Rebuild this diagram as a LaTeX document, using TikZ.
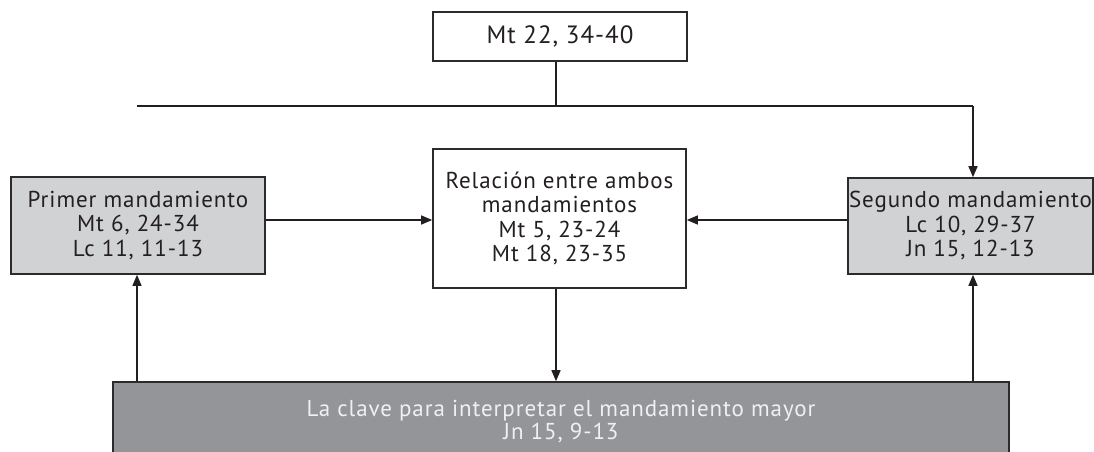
\documentclass[tikz,border=0pt]{standalone}
\usepackage{fontspec}
\setmainfont{PT Sans}[LetterSpace=4]
\usetikzlibrary{arrows.meta}
\definecolor{lightbox}{HTML}{D1D2D4}
\definecolor{darkbox}{HTML}{939598}
\definecolor{ink}{HTML}{231F20}
\definecolor{edge}{HTML}{2B2B2B}
\tikzset{
  box/.style={draw=edge, line width=1.6pt, inner sep=0pt, align=center, text=ink,
    font=\fontsize{23}{24.5}\selectfont},
  conn/.style={draw=ink, line width=1.4pt},
  arr/.style={conn, -{Triangle[length=11pt,width=9pt]}}
}
\begin{document}
\begin{tikzpicture}[x=1pt,y=-1pt]
\useasboundingbox (0,0) rectangle (1094,452);
\node[box, fill=white, minimum width=254, minimum height=49, font=\fontsize{25}{28}\selectfont] (top) at (560,36.5) {Mt 22, 34-40};
\node[box, fill=lightbox, minimum width=254, minimum height=97] (left) at (138,225.5)
  {Primer mandamiento\\Mt 6, 24-34\\Lc 11, 11-13};
\node[box, fill=white, minimum width=253, minimum height=139] (mid) at (559.5,218.5)
  {Relación entre ambos\\mandamientos\\Mt 5, 23-24\\Mt 18, 23-35};
\node[box, fill=lightbox, minimum width=245, minimum height=96] (right) at (970.5,226)
  {Segundo mandamiento\\Lc 10, 29-37\\Jn 15, 12-13};
\node[box, fill=darkbox, minimum width=896, minimum height=90] (bot) at (561,427) {};
\node[inner sep=0pt, align=center, text=white!94!black, font=\fontsize{23}{23}\selectfont] (bottxt) at (561,422)
  {La clave para interpretar el mandamiento mayor\\Jn 15, 9-13};
\coordinate (hl) at (137,106);
\coordinate (hm) at (556,106);
\coordinate (hr) at (973,106);
\coordinate (ya) at (0,220);
\draw[conn] (hm |- top.south) -- (hm);
\draw[conn] (hl) -- (hr);
\draw[arr] (hr) -- (hr |- right.north);
\draw[arr] (left.east |- ya) -- (mid.west |- ya);
\draw[arr] (right.west |- ya) -- (mid.east |- ya);
\draw[arr] (hm |- mid.south) -- (hm |- bot.north);
\draw[arr] (hl |- bot.north) -- (hl |- left.south);
\draw[arr] (hr |- bot.north) -- (hr |- right.south);
\end{tikzpicture}
\end{document}
